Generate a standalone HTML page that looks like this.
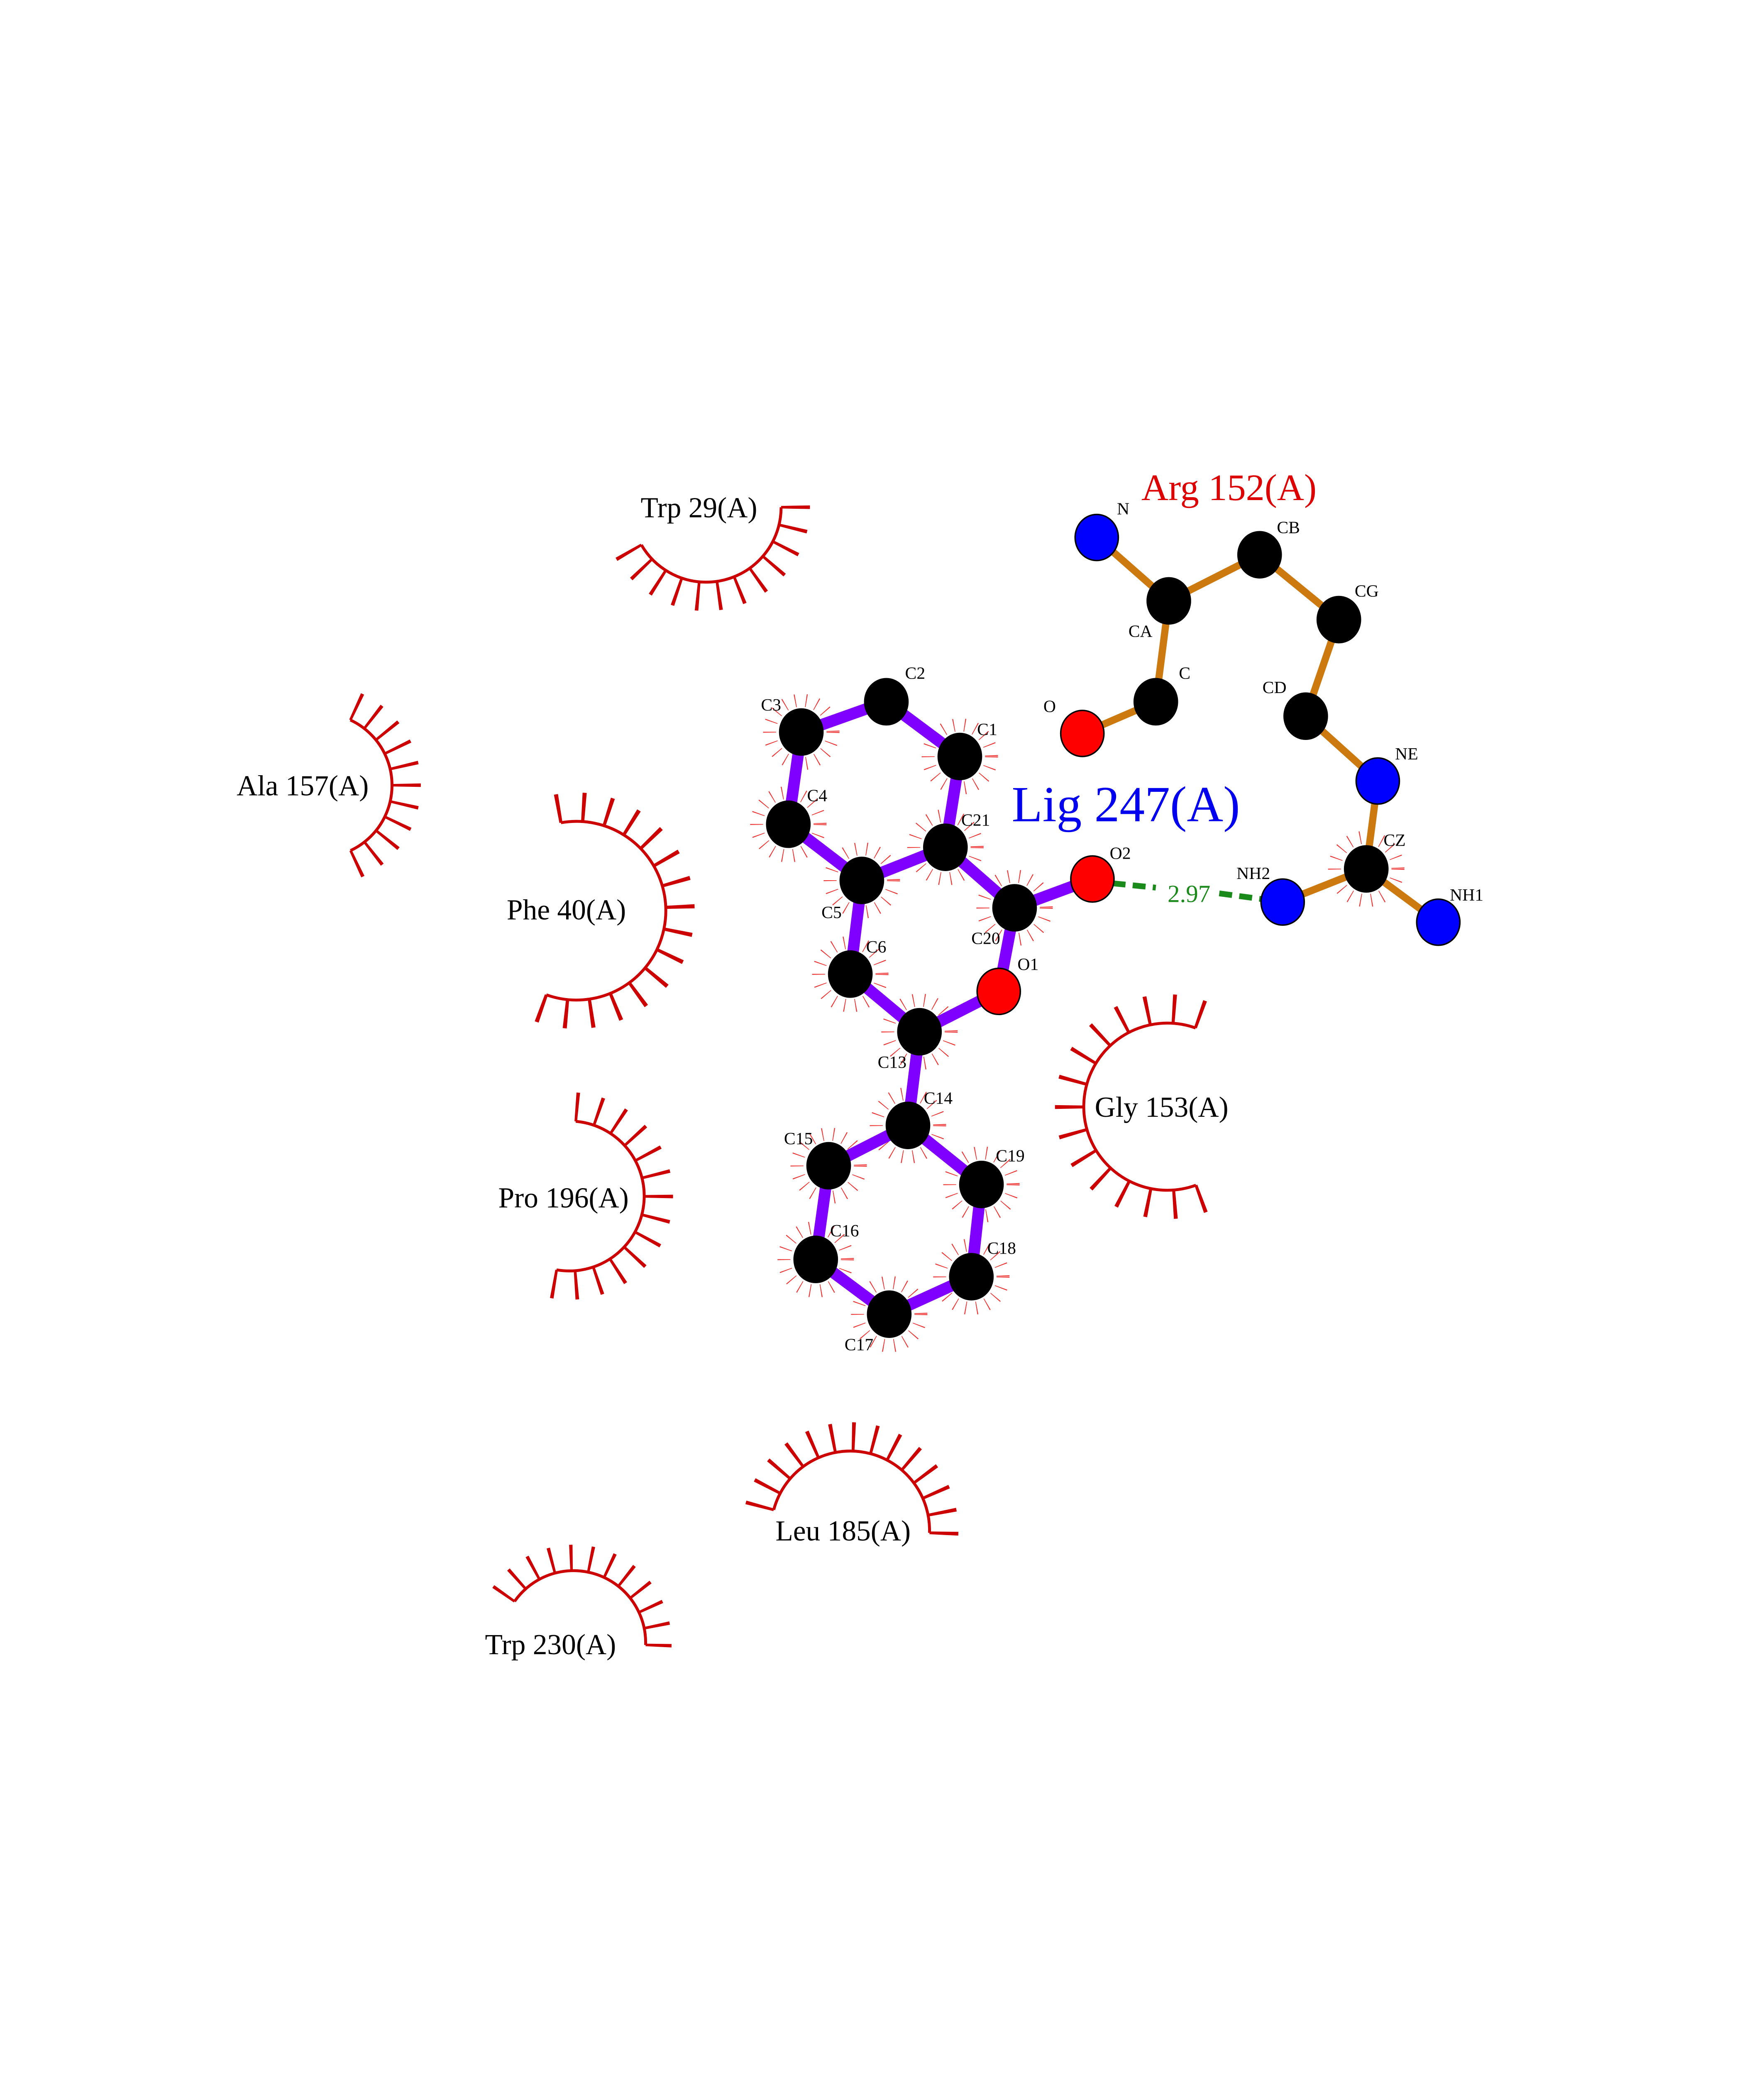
<!DOCTYPE html>
<html><head><meta charset="utf-8"><style>html,body{margin:0;padding:0;background:#fff;width:4250px;height:5500px;overflow:hidden;position:relative}svg{position:absolute;left:0;top:0;display:block}</style></head>
<body>
<svg xmlns="http://www.w3.org/2000/svg" width="4250" height="5500" viewBox="0 0 1224 1584" font-family="'Liberation Serif', serif">
<rect width="1224" height="1584" fill="#fff"/>
<g stroke="#cc0000" fill="none">
<circle cx="490" cy="352" r="52" stroke-width="2" pathLength="360" stroke-dasharray="150 360" transform="rotate(0 490 352)"/>
<circle cx="490" cy="352" r="62" stroke-width="20" pathLength="360" stroke-dasharray="2 11.64 2 11.64 2 11.64 2 11.64 2 11.64 2 11.64 2 11.64 2 11.64 2 11.64 2 11.64 2 11.64 2 400" transform="rotate(-1 490 352)"/>
<circle cx="222" cy="545" r="50" stroke-width="2" pathLength="360" stroke-dasharray="130 360" transform="rotate(-65 222 545)"/>
<circle cx="222" cy="545" r="60" stroke-width="20" pathLength="360" stroke-dasharray="2 11 2 11 2 11 2 11 2 11 2 11 2 11 2 11 2 11 2 11 2 400" transform="rotate(-66 222 545)"/>
<circle cx="400" cy="632" r="62" stroke-width="2" pathLength="360" stroke-dasharray="210 360" transform="rotate(-100 400 632)"/>
<circle cx="400" cy="632" r="72" stroke-width="20" pathLength="360" stroke-dasharray="2 12 2 12 2 12 2 12 2 12 2 12 2 12 2 12 2 12 2 12 2 12 2 12 2 12 2 12 2 12 2 400" transform="rotate(-101 400 632)"/>
<circle cx="395" cy="830" r="52" stroke-width="2" pathLength="360" stroke-dasharray="185 360" transform="rotate(-85 395 830)"/>
<circle cx="395" cy="830" r="62" stroke-width="20" pathLength="360" stroke-dasharray="2 12.23 2 12.23 2 12.23 2 12.23 2 12.23 2 12.23 2 12.23 2 12.23 2 12.23 2 12.23 2 12.23 2 12.23 2 12.23 2 400" transform="rotate(-86 395 830)"/>
<circle cx="810" cy="768" r="58" stroke-width="2" pathLength="360" stroke-dasharray="220 360" transform="rotate(70 810 768)"/>
<circle cx="810" cy="768" r="68" stroke-width="20" pathLength="360" stroke-dasharray="2 13.71 2 13.71 2 13.71 2 13.71 2 13.71 2 13.71 2 13.71 2 13.71 2 13.71 2 13.71 2 13.71 2 13.71 2 13.71 2 13.71 2 400" transform="rotate(69 810 768)"/>
<circle cx="590" cy="1062" r="55" stroke-width="2" pathLength="360" stroke-dasharray="167 360" transform="rotate(195 590 1062)"/>
<circle cx="590" cy="1062" r="65" stroke-width="20" pathLength="360" stroke-dasharray="2 10.85 2 10.85 2 10.85 2 10.85 2 10.85 2 10.85 2 10.85 2 10.85 2 10.85 2 10.85 2 10.85 2 10.85 2 10.85 2 400" transform="rotate(194 590 1062)"/>
<circle cx="398" cy="1140" r="50" stroke-width="2" pathLength="360" stroke-dasharray="147 360" transform="rotate(215 398 1140)"/>
<circle cx="398" cy="1140" r="59" stroke-width="18" pathLength="360" stroke-dasharray="2 11.36 2 11.36 2 11.36 2 11.36 2 11.36 2 11.36 2 11.36 2 11.36 2 11.36 2 11.36 2 11.36 2 400" transform="rotate(214 398 1140)"/>
</g>
<g stroke="#ee3333" fill="none" stroke-width="9" pathLength="360" stroke-dasharray="1.5 18.5">
<circle cx="556" cy="508" r="22" pathLength="360"/><circle cx="547" cy="572" r="22" pathLength="360"/>
<circle cx="598" cy="611" r="22" pathLength="360"/><circle cx="656" cy="588" r="22" pathLength="360"/>
<circle cx="666" cy="525" r="22" pathLength="360"/><circle cx="590" cy="676" r="22" pathLength="360"/>
<circle cx="638" cy="716" r="22" pathLength="360"/><circle cx="704" cy="630" r="22" pathLength="360"/>
<circle cx="630" cy="781" r="22" pathLength="360"/><circle cx="575" cy="809" r="22" pathLength="360"/>
<circle cx="566" cy="874" r="22" pathLength="360"/><circle cx="617" cy="912" r="22" pathLength="360"/>
<circle cx="674" cy="886" r="22" pathLength="360"/><circle cx="681" cy="822" r="22" pathLength="360"/>
<circle cx="948" cy="603" r="22" pathLength="360"/>
</g>
<g stroke="#8000ff" stroke-width="8" stroke-linecap="round">
<line x1="556" y1="508" x2="615" y2="487"/><line x1="615" y1="487" x2="666" y2="525"/>
<line x1="666" y1="525" x2="656" y2="588"/><line x1="656" y1="588" x2="598" y2="611"/>
<line x1="598" y1="611" x2="547" y2="572"/><line x1="547" y1="572" x2="556" y2="508"/>
<line x1="656" y1="588" x2="704" y2="630"/><line x1="704" y1="630" x2="758" y2="610"/>
<line x1="704" y1="630" x2="693" y2="688"/><line x1="693" y1="688" x2="638" y2="716"/>
<line x1="638" y1="716" x2="590" y2="676"/><line x1="590" y1="676" x2="598" y2="611"/>
<line x1="638" y1="716" x2="630" y2="781"/><line x1="630" y1="781" x2="575" y2="809"/>
<line x1="575" y1="809" x2="566" y2="874"/><line x1="566" y1="874" x2="617" y2="912"/>
<line x1="617" y1="912" x2="674" y2="886"/><line x1="674" y1="886" x2="681" y2="822"/>
<line x1="681" y1="822" x2="630" y2="781"/>
</g>
<g stroke="#cc7a10" stroke-width="5" stroke-linecap="round">
<line x1="761" y1="373" x2="811" y2="417"/><line x1="811" y1="417" x2="874" y2="385"/>
<line x1="874" y1="385" x2="929" y2="430"/><line x1="929" y1="430" x2="906" y2="497"/>
<line x1="906" y1="497" x2="956" y2="542"/><line x1="956" y1="542" x2="948" y2="603"/>
<line x1="948" y1="603" x2="998" y2="640"/><line x1="948" y1="603" x2="890" y2="626"/>
<line x1="811" y1="417" x2="802" y2="487"/><line x1="802" y1="487" x2="751" y2="509"/>
</g>
<line x1="772" y1="613" x2="802" y2="616" stroke="#1a8a1a" stroke-width="4" stroke-dasharray="9,5"/>
<line x1="846" y1="620" x2="876" y2="624" stroke="#1a8a1a" stroke-width="4" stroke-dasharray="9,5"/>
<text x="825" y="626" font-size="17" fill="#1a8a1a" text-anchor="middle">2.97</text>
<g stroke="#000" stroke-width="1">
<ellipse cx="666" cy="525" rx="15" ry="16" fill="#000"/><ellipse cx="615" cy="487" rx="15" ry="16" fill="#000"/>
<ellipse cx="556" cy="508" rx="15" ry="16" fill="#000"/><ellipse cx="547" cy="572" rx="15" ry="16" fill="#000"/>
<ellipse cx="598" cy="611" rx="15" ry="16" fill="#000"/><ellipse cx="656" cy="588" rx="15" ry="16" fill="#000"/>
<ellipse cx="704" cy="630" rx="15" ry="16" fill="#000"/><ellipse cx="758" cy="610" rx="15" ry="16" fill="#ff0000"/>
<ellipse cx="693" cy="688" rx="15" ry="16" fill="#ff0000"/><ellipse cx="590" cy="676" rx="15" ry="16" fill="#000"/>
<ellipse cx="638" cy="716" rx="15" ry="16" fill="#000"/><ellipse cx="630" cy="781" rx="15" ry="16" fill="#000"/>
<ellipse cx="575" cy="809" rx="15" ry="16" fill="#000"/><ellipse cx="566" cy="874" rx="15" ry="16" fill="#000"/>
<ellipse cx="617" cy="912" rx="15" ry="16" fill="#000"/><ellipse cx="674" cy="886" rx="15" ry="16" fill="#000"/>
<ellipse cx="681" cy="822" rx="15" ry="16" fill="#000"/>
<ellipse cx="761" cy="373" rx="15" ry="16" fill="#0000ff"/><ellipse cx="811" cy="417" rx="15" ry="16" fill="#000"/>
<ellipse cx="874" cy="385" rx="15" ry="16" fill="#000"/><ellipse cx="929" cy="430" rx="15" ry="16" fill="#000"/>
<ellipse cx="906" cy="497" rx="15" ry="16" fill="#000"/><ellipse cx="956" cy="542" rx="15" ry="16" fill="#0000ff"/>
<ellipse cx="948" cy="603" rx="15" ry="16" fill="#000"/><ellipse cx="998" cy="640" rx="15" ry="16" fill="#0000ff"/>
<ellipse cx="890" cy="626" rx="15" ry="16" fill="#0000ff"/><ellipse cx="802" cy="487" rx="15" ry="16" fill="#000"/>
<ellipse cx="751" cy="509" rx="15" ry="16" fill="#ff0000"/>
</g>
<g font-size="12" fill="#000">
<text x="628" y="471">C2</text><text x="528" y="493">C3</text><text x="678" y="510">C1</text>
<text x="560" y="556">C4</text><text x="667" y="573">C21</text><text x="570" y="637">C5</text>
<text x="770" y="596">O2</text><text x="674" y="655">C20</text><text x="706" y="673">O1</text>
<text x="601" y="661">C6</text><text x="609" y="741">C13</text><text x="641" y="766">C14</text>
<text x="544" y="794">C15</text><text x="691" y="806">C19</text><text x="576" y="858">C16</text>
<text x="685" y="870">C18</text><text x="586" y="937">C17</text>
<text x="775" y="357">N</text><text x="886" y="370">CB</text><text x="783" y="442">CA</text>
<text x="940" y="414">CG</text><text x="818" y="471">C</text><text x="724" y="494">O</text>
<text x="876" y="481">CD</text><text x="968" y="527">NE</text><text x="960" y="587">CZ</text>
<text x="858" y="610">NH2</text><text x="1006" y="625">NH1</text>
</g>
<text x="792" y="347" font-size="26" fill="#dd0000">Arg 152(A)</text>
<text x="702" y="570" font-size="35" fill="#0000ee">Lig 247(A)</text>
<g font-size="20" fill="#000" text-anchor="middle">
<text x="485" y="359">Trp 29(A)</text><text x="210" y="552">Ala 157(A)</text>
<text x="393" y="638">Phe 40(A)</text><text x="806" y="775">Gly 153(A)</text>
<text x="391" y="838">Pro 196(A)</text><text x="585" y="1069">Leu 185(A)</text>
<text x="382" y="1148">Trp 230(A)</text>
</g>
<text x="58" y="1470" font-size="14">.</text>
</svg>
</body></html>
